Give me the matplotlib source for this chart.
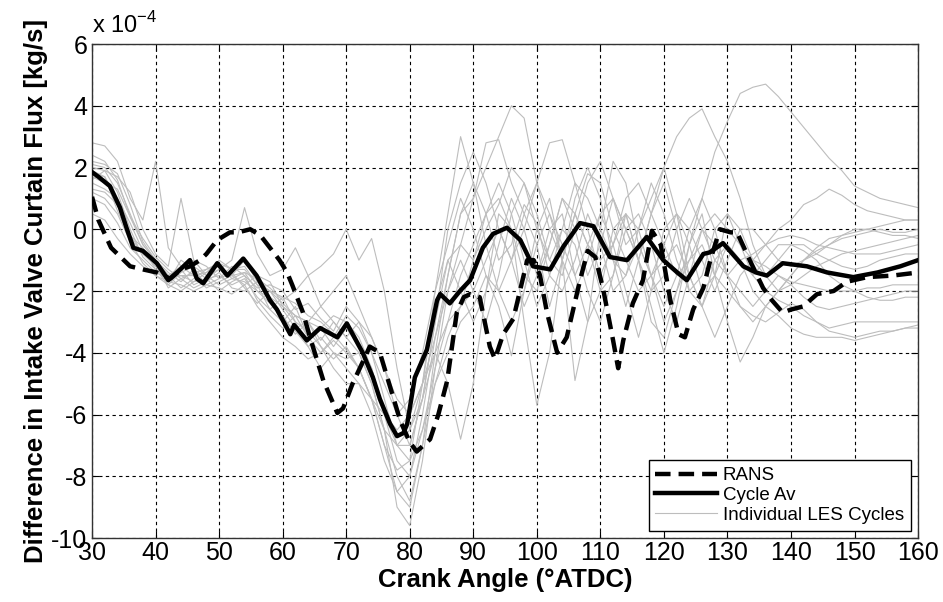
import matplotlib
matplotlib.use('Agg')
import matplotlib.pyplot as plt

plt.rcParams['font.family'] = ['Liberation Sans', 'DejaVu Sans']
plt.rcParams['axes.unicode_minus'] = False
plt.rcParams['mathtext.fontset'] = 'custom'
plt.rcParams['mathtext.rm'] = 'Liberation Sans'

# values in units of 1e-4 kg/s
les_x = list(range(30, 161, 2))

les_cycles = [
    [2.8, 2.7, 2.2, 1.0, 0.3, 2.2, -0.6, -1.2, -1.5, -1.4,
     -1.0, -1.3, -1.2, -1.8, -2.0, -2.4, -2.8, -3.0, -3.2, -2.8,
     -3.0, -3.5, -4.5, -6.0, -7.5, -8.0, -6.0, -3.5, -1.5, 0.5,
     1.5, 0.5, -1.0, -0.5, 0.8, 0.2, -1.5, -2.0, -1.0, 0.5,
     -0.5, -2.0, -1.5, -0.5, -1.5, -3.0, -2.0, -0.5, 1.0, 2.5,
     3.5, 4.4, 4.6, 4.7, 4.3, 3.8, 3.3, 2.8, 2.3, 1.9,
     1.4, 1.2, 1.0, 0.9, 0.8, 0.7],
    [2.1, 2.0, 1.5, 0.5, -0.5, -1.0, -1.5, -1.3, -1.8, -1.6,
     -1.3, -1.5, -1.0, -1.7, -2.2, -2.5, -3.0, -3.3, -3.8, -4.2,
     -3.8, -4.5, -5.5, -7.0, -8.5, -9.0, -7.0, -4.0, -1.5, 0.5,
     1.0, 2.0, 3.0, 4.0, 3.6, 1.5, 0.0, -1.0, 0.5, 1.8,
     1.5, 0.0, -1.0, -2.0, -1.5, -0.5, 0.5, -0.5, -2.0, -1.5,
     -0.5, -1.0, -2.0, -2.5, -2.0, -1.5, -1.0, -0.6, -0.3, -0.2,
     -0.1, 0.0, 0.1, 0.2, 0.3, 0.3],
    [1.8, 1.7, 0.6, -0.3, -0.8, -1.2, -1.7, -1.0, -1.3, -1.8,
     -1.6, -1.2, -1.5, -1.9, -1.8, -2.0, -2.6, -2.4, -2.9, -3.3,
     -2.5, -3.0, -4.0, -5.5, -7.0, -7.5, -5.0, -2.0, 0.5, 3.0,
     1.5, -0.5, -2.0, -1.0, 0.5, -0.5, -2.5, -1.0, 1.0, 2.0,
     1.0, -1.0, -2.5, -1.0, 0.5, 2.0, 3.0, 3.6, 3.9, 3.0,
     2.2, 1.0, -0.5, -1.5, -2.0, -1.8, -1.5, -1.2, -1.0, -0.8,
     -0.7, -0.6, -0.5, -0.4, -0.3, -0.2],
    [1.6, 1.9, 1.2, 0.0, -0.9, -1.3, -1.8, -1.4, -1.2, -1.5,
     -1.8, -1.6, -1.4, -2.0, -2.4, -2.8, -3.4, -3.0, -3.6, -3.0,
     -3.5, -4.0, -5.0, -6.5, -9.0, -9.6, -7.5, -4.5, -2.0, -0.5,
     1.0, 2.8, 2.9, 1.5, 0.5, 1.5, 2.8, 2.9, 1.5, 0.0,
     -1.5, -0.5, 0.5, 0.0, -1.5, -2.5, -1.5, 0.0, 1.0, 0.0,
     -1.5, -2.5, -3.0, -2.5, -2.0, -1.5, -1.0, -0.7, -0.5, -0.3,
     -0.2, -0.1, 0.0, -0.1, -0.1, 0.0],
    [1.0, 0.8, 0.2, -0.6, -1.0, -1.4, -1.6, -1.5, -1.7, -1.4,
     -1.2, -1.5, -1.8, -1.5, -1.7, -2.5, -2.8, -3.5, -3.2, -3.8,
     -3.2, -3.8, -4.5, -6.0, -7.0, -6.5, -5.5, -4.0, -5.0, -6.8,
     -5.0, -2.0, 0.5, 0.0, -3.0, -5.7, -4.0, -1.0, 0.5, -0.5,
     -2.0, -1.5, 0.0, 0.5, -0.5, -2.0, -3.0, -1.5, 0.0, -0.5,
     -1.5, -2.0, -2.5, -2.0, -1.5, -1.8, -2.2, -2.5, -2.6, -2.5,
     -2.4, -2.3, -2.2, -2.1, -2.0, -2.0],
    [2.2, 2.1, 1.8, 0.8, -0.4, -1.0, -1.4, -1.7, -1.3, -1.6,
     -1.5, -1.8, -1.6, -2.2, -2.6, -3.0, -2.5, -3.5, -4.0, -3.5,
     -2.8, -3.2, -4.0, -5.0, -6.0, -5.5, -4.0, -2.0, -0.5, 1.0,
     0.0, -1.5, -2.5, -4.1, -2.0, 0.0, 1.0, -1.0, -4.9, -3.0,
     0.0, 2.2, 1.5, -0.5, -1.5, -1.0, -0.5, -1.5, -2.5, -1.5,
     0.5, 0.0, -1.0, -1.5, -1.0, -0.5, -0.5, -0.8, -1.0, -1.2,
     -1.3, -1.2, -1.0, -0.9, -0.8, -0.8],
    [1.9, 1.7, 1.0, -0.2, -0.8, -1.1, -1.9, -1.6, -1.9, -1.7,
     -1.4, -1.9, -2.0, -1.7, -2.0, -2.2, -3.0, -3.8, -4.5, -4.0,
     -4.5, -5.0, -6.0, -7.5, -8.5, -8.0, -6.5, -4.5, -3.0, -1.5,
     -0.5, 0.5, 1.5, 0.5, -1.0, -2.5, -1.5, 0.0, -0.5, -2.0,
     -3.0, -1.5, 0.5, -1.0, -2.5, -4.0, -2.5, -0.5, 0.5, -1.5,
     -3.0, -4.3, -3.5, -2.5, -2.8, -3.2, -3.4, -3.5, -3.5, -3.5,
     -3.6, -3.5, -3.4, -3.3, -3.2, -3.2],
    [1.7, 1.5, 1.3, 0.4, -0.5, -1.0, -1.5, -1.9, -1.6, -1.3,
     -1.1, -1.3, -1.3, -1.8, -2.6, -2.2, -2.4, -2.8, -3.0, -3.4,
     -3.9, -4.5, -5.5, -6.5, -7.0, -7.0, -5.5, -3.0, -1.0, -2.0,
     -3.0, -2.0, -0.5, 1.0, 0.0, -1.5, -0.5, 1.0, 0.0, -1.5,
     -0.5, 1.0, 0.0, -1.0, 0.5, 1.5, 0.0, -2.0, -2.5, -1.0,
     -0.5, -1.0, -1.5, -1.0, -0.5, -0.5, -0.7, -1.0, -1.5, -1.8,
     -2.0, -2.2, -2.3, -2.3, -2.2, -2.2],
    [1.5, 1.3, 1.0, 0.2, -0.7, -1.2, -1.5, -1.2, -1.0, -1.2,
     -1.6, -1.4, -1.9, -2.4, -2.0, -2.6, -3.2, -3.0, -2.5, -3.0,
     -3.5, -3.0, -3.5, -4.5, -5.5, -6.0, -5.0, -3.5, -2.0, -1.0,
     -2.0, -3.0, -1.5, 0.5, 1.5, 0.5, -1.0, -1.5, 0.0, 1.5,
     2.2, 1.0, -0.5, 0.0, 1.0, 2.0, 0.5, -1.5, -2.5, -3.5,
     -2.5, -1.5, -1.0, -0.5, 0.0, 0.3, 0.8, 1.0, 1.3, 1.1,
     0.8, 0.6, 0.5, 0.4, 0.3, 0.3],
    [0.5, 0.3, -0.3, -0.8, -1.2, -1.5, -1.8, -2.0, -1.7, -1.6,
     -2.0, -1.7, -1.5, -2.3, -2.8, -3.2, -2.8, -3.0, -3.8, -4.5,
     -5.0, -5.0, -5.5, -6.0, -6.5, -6.0, -5.0, -4.0, -3.0, -2.5,
     -2.0, -1.0, 0.0, -1.0, -2.5, -1.5, 0.0, 0.5, -1.5, -3.0,
     -2.0, 0.0, 0.5, -1.0, -3.0, -3.5, -2.0, -1.0, -0.5, -1.5,
     -2.0, -2.5, -2.8, -3.0, -2.7, -2.4, -2.6, -3.0, -3.2, -3.1,
     -3.0, -3.0, -3.0, -3.0, -3.0, -3.0],
    [2.0, 1.9, 1.7, 1.2, 0.0, -0.8, -1.2, 1.0, -1.0, -1.5,
     -1.3, -1.0, 0.7, -0.8, -1.5, -1.3, -0.6, -1.5, -2.5, -2.0,
     -1.5, -2.5, -3.5, -4.5, -6.0, -7.0, -5.5, -3.0, 0.0, 1.5,
     2.5, 1.5, 0.0, -1.0, 0.0, 1.5, 0.5, -1.0, -2.0, -1.0,
     0.5, 1.0, 0.0, -1.0, -2.0, -1.5, 0.0, 1.0, 0.0, -1.0,
     -1.5, -1.0, -0.8, -0.5, -0.3, -0.2, -0.3, -0.5, -0.6, -0.7,
     -0.8, -0.8, -0.8, -0.7, -0.6, -0.5],
    [1.3, 1.2, 0.8, -0.2, -0.6, -1.3, -1.6, -1.5, -1.5, -1.9,
     -1.7, -1.5, -1.4, -1.6, -1.9, -2.3, -2.0, -1.5, -1.2, -0.8,
     0.0, -1.0, -0.3, -2.0, -4.5, -6.5, -5.0, -2.5, -1.0, -0.5,
     -1.0, 0.5, 1.0, 0.0, -1.5, -2.0, -0.5, 1.0, 0.5, -0.5,
     -1.0, -0.5, 1.0, 1.5, 0.5, -0.5, -1.5, -1.0, 0.0, 0.5,
     0.0, -0.5, -1.0, -1.2, -1.5, -1.7, -1.8, -1.9, -2.0, -2.0,
     -2.0, -1.9, -1.9, -1.8, -1.8, -1.8],
    [2.4, 2.2, 1.6, 0.4, -0.3, -0.9, -1.3, -1.6, -1.4, -1.3,
     -1.1, -1.6, -1.7, -2.0, -2.2, -2.9, -3.3, -3.8, -3.5, -4.0,
     -4.2, -4.0, -5.0, -6.5, -8.0, -8.8, -7.0, -5.0, -3.5, -2.5,
     -1.0, 0.0, 0.8, 2.0, 1.5, 0.0, -1.0, 0.0, 1.5, 1.0,
     0.0, -1.0, -1.5, 0.0, 1.5, 0.5, -1.0, -2.0, -1.5, 0.0,
     0.5, -0.5, -1.5, -2.0, -2.3, -2.5, -2.8, -3.0, -3.3, -3.4,
     -3.5, -3.4, -3.3, -3.3, -3.2, -3.1],
    [1.2, 1.0, 0.5, -0.4, -1.1, -1.5, -1.7, -1.8, -2.0, -1.8,
     -1.9, -2.1, -1.8, -2.5, -3.0, -3.5, -3.8, -4.2, -4.0, -3.6,
     -4.0, -4.5, -5.5, -7.0, -7.8, -7.5, -6.5, -5.0, -4.0, -3.0,
     -2.5, -1.5, -2.0, -3.0, -2.0, -0.5, 0.5, -0.5, -1.5, -0.5,
     0.5, -0.5, -2.0, -3.5, -2.0, 0.0, 0.5, 0.0, -1.0, -2.0,
     -1.0, 0.0, 0.0, -0.5, -1.0, -1.2, -1.0, -0.8, -0.5, -0.2,
     0.0, 0.0, -0.1, -0.2, -0.2, -0.3],
]

rans_x = [30, 31, 33, 35, 36, 38, 40.2, 42.3, 44, 45.4, 47, 48, 49.7, 51.7, 53,
          54.9, 56.5, 58, 59.5, 60.7, 61.5, 63.2, 64.3, 66.4, 68.6, 69.5, 71,
          72.6, 73.7, 75.3, 76.9, 78.5, 80, 81.1, 83.2, 84.5, 85.9, 87.4, 88.5,
          89.5, 91, 92.6, 93.4, 94.7, 96.3, 97.8, 98.5, 99.5, 100.5, 101.6,
          103.2, 104.7, 106.8, 108, 109.2, 110.4, 112, 112.8, 113.6, 115.1,
          116.7, 118.1, 119.5, 121, 122.3, 123.3, 124.6, 126.2, 127.3, 128.8,
          130.5, 131.5, 133.5, 135.6, 137, 138.7, 140, 141.9, 144.1, 146.7,
          148.8, 152, 156, 160]
rans_y = [1.05, 0.3, -0.6, -1.0, -1.2, -1.3, -1.4, -1.6, -1.3, -1.2, -1.0, -0.8,
          -0.35, -0.1, -0.1, 0.0, -0.2, -0.6, -1.0, -1.4, -1.8, -2.7, -3.5, -4.9,
          -5.95, -5.8, -5.0, -4.3, -3.8, -4.0, -5.1, -6.2, -6.9, -7.2, -6.8, -6.0,
          -4.9, -2.7, -2.2, -2.1, -2.2, -3.8, -4.2, -3.4, -2.9, -1.6, -1.0, -1.0,
          -1.5, -2.7, -4.0, -3.5, -1.65, -0.7, -0.9, -1.9, -3.6, -4.5, -3.6, -2.4,
          -1.65, -0.05, -0.5, -2.3, -3.4, -3.5, -2.6, -1.9, -1.0, 0.0, -0.1, -0.1,
          -1.0, -1.9, -2.3, -2.7, -2.6, -2.5, -2.1, -2.0, -1.7, -1.55, -1.5, -1.4]

avg_x = [30, 31, 32.8, 34.4, 35.5, 36.5, 38, 40.2, 42, 43.9, 45.4, 46.5, 47.5,
         49.7, 51.3, 53.8, 55.9, 58, 59.1, 61.2, 61.8, 63.8, 65.9, 68.6, 70.1,
         72.6, 74.2, 75.3, 76.9, 78, 79, 79.6, 80.8, 82.7, 84.3, 84.8, 86.3,
         87.9, 89.5, 91.5, 93.1, 95.3, 97.4, 99.4, 102.1, 104.2, 106.8, 108.9,
         111.5, 114.2, 117.3, 119.9, 122.1, 123.6, 126.2, 127.2, 129.3, 132.5,
         134.5, 136.2, 138.7, 142.5, 145.7, 149.8, 153.6, 157.2, 160]
avg_y = [1.85, 1.7, 1.4, 0.7, 0.0, -0.6, -0.7, -1.1, -1.65, -1.3, -1.0, -1.6,
         -1.75, -1.1, -1.5, -0.95, -1.5, -2.3, -2.6, -3.4, -3.1, -3.6, -3.2, -3.5,
         -3.05, -4.0, -4.8, -5.5, -6.3, -6.7, -6.6, -6.3, -4.8, -3.9, -2.3, -2.1,
         -2.4, -2.0, -1.65, -0.6, -0.15, 0.05, -0.35, -1.2, -1.3, -0.55, 0.2, 0.1,
         -0.9, -1.0, -0.25, -1.0, -1.4, -1.65, -0.8, -0.75, -0.45, -1.2, -1.4,
         -1.5, -1.1, -1.2, -1.4, -1.55, -1.4, -1.2, -1.0]

fig = plt.figure(figsize=(9.43, 6.02), dpi=100)
ax = fig.add_axes([0.0976, 0.1063, 0.876, 0.8206])

for i, cyc in enumerate(les_cycles):
    ax.plot(les_x, cyc, color='#bdbdbd', lw=0.8,
            label='Individual LES Cycles' if i == 0 else None, zorder=2)
ax.plot(rans_x, rans_y, color='black', lw=3.2, ls=(0, (3.5, 1.8)),
        label='RANS', zorder=4)
ax.plot(avg_x, avg_y, color='black', lw=3.2, label='Cycle Av', zorder=3)

ax.set_xlim(30, 160)
ax.set_ylim(-10, 6)
ax.set_xticks(range(30, 161, 10))
ax.set_yticks(range(-10, 7, 2))
ax.grid(True, color='black', lw=0.8, ls=(0, (3, 3)))
ax.tick_params(direction='in', top=True, right=True, labelsize=18, length=5)
ax.tick_params(axis='x', pad=2)
for sp in ax.spines.values():
    sp.set_linewidth(1.0)
    sp.set_color('#333333')

ax.set_xlabel('Crank Angle (°ATDC)', fontsize=18.5, fontweight='bold', labelpad=2)
ax.set_ylabel('Difference in Intake Valve Curtain Flux [kg/s]', fontsize=18.5,
              fontweight='bold', labelpad=2)
ax.text(0.0, 1.012, r'x 10$^{\mathregular{-4}}$', transform=ax.transAxes,
        fontsize=17, ha='left', va='bottom')

handles, labels = ax.get_legend_handles_labels()
order = [labels.index('RANS'), labels.index('Cycle Av'), labels.index('Individual LES Cycles')]
leg = ax.legend([handles[k] for k in order], [labels[k] for k in order],
                loc='lower right', fontsize=13.5, frameon=True, fancybox=False,
                edgecolor='black', framealpha=1, handlelength=3.3, labelspacing=0.15,
                borderpad=0.35, handletextpad=0.3, borderaxespad=0.4)
leg.get_frame().set_linewidth(1.0)

fig.savefig('out.png', dpi=100)
